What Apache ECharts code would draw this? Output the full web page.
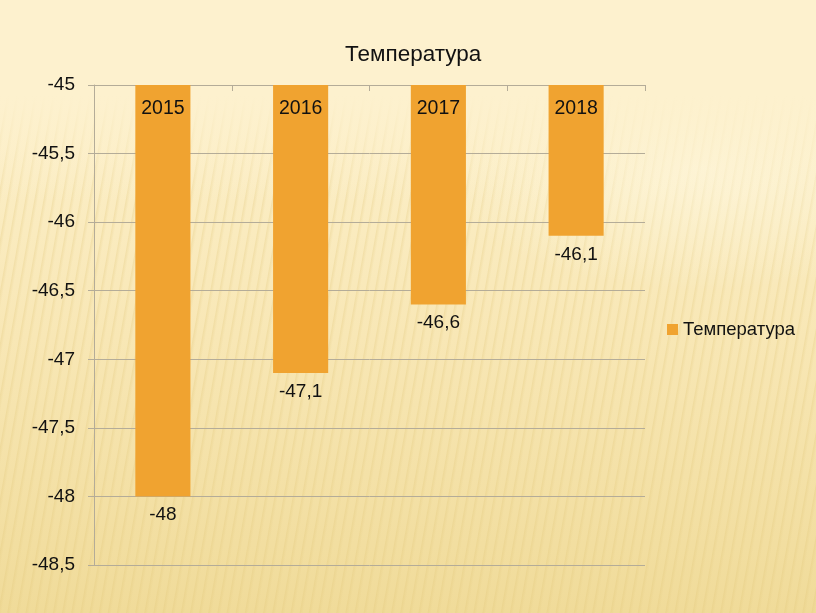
<!DOCTYPE html>
<html>
<head>
<meta charset="utf-8">
<script src="https://cdn.jsdelivr.net/npm/echarts@6/dist/echarts.min.js"></script>
<style>
html,body{margin:0;padding:0;}
body{
  width:816px;height:613px;overflow:hidden;
  background:
    linear-gradient(180deg, rgba(253,241,206,1) 0px, rgba(253,241,206,1) 95px, rgba(253,241,206,0) 200px),
    radial-gradient(ellipse 260px 120px at 700px 170px, rgba(255,250,230,0.55), rgba(255,250,230,0) 100%),
    repeating-linear-gradient(100deg, rgba(255,255,255,0) 0px, rgba(255,255,255,0) 5px, rgba(225,198,120,0.28) 6px, rgba(255,255,255,0) 9px),
    linear-gradient(180deg, #FDF1CE 0%, #FCEFC8 20%, #F8E7B5 55%, #F0DB99 100%);
}
#chart{width:816px;height:613px;}
</style>
</head>
<body>
<div id="chart"></div>
<script>
const categories = ['2015', '2016', '2017', '2018'];
const seriesName = 'Температура';
const values = [-48, -47.1, -46.6, -46.1];
const yTicks = [-45, -45.5, -46, -46.5, -47, -47.5, -48, -48.5];

const fmt = v => String(v).replace('.', ',');
const font = '"Liberation Sans", Arial, sans-serif';

const chart = echarts.init(document.getElementById('chart'), null, {renderer: 'canvas'});
chart.setOption({
  backgroundColor: 'transparent',
  animation: false,
  title: {
    text: 'Температура',
    left: 340,
    top: 38,
    textStyle: {fontFamily: font, fontSize: 22.5, fontWeight: 'normal', color: '#111'}
  },
  legend: {
    data: [seriesName],
    orient: 'vertical',
    left: 662,
    top: 315,
    itemWidth: 11,
    itemHeight: 11,
    itemGap: 6,
    icon: 'rect',
    textStyle: {fontFamily: font, fontSize: 18.5, color: '#111'}
  },
  grid: {left: 94, right: 171, top: 85, bottom: 48, containLabel: false},
  xAxis: {
    type: 'category',
    data: categories,
    position: 'top',
    z: 5,
    axisLine: {show: false},
    axisTick: {show: true, inside: true, length: 6, lineStyle: {color: '#B4AC98'}},
    axisLabel: {inside: true, margin: 14, fontFamily: font, fontSize: 19.5, color: '#111', verticalAlign: 'top'},
    splitLine: {show: false}
  },
  yAxis: {
    type: 'value',
    min: -48.5,
    max: -45,
    interval: 0.5,
    axisLine: {show: true, lineStyle: {color: '#B4AC98', width: 1}},
    axisTick: {show: true, length: 6, lineStyle: {color: '#B4AC98'}},
    axisLabel: {margin: 19, fontFamily: font, fontSize: 19, color: '#111', formatter: v => fmt(v)},
    splitLine: {show: true, lineStyle: {color: '#B4AC98', width: 1}}
  },
  series: [{
    name: seriesName,
    type: 'bar',
    data: values,
    barWidth: '40%',
    clip: true,
    itemStyle: {color: '#F0A330'},
    label: {
      show: true,
      position: 'bottom',
      distance: 9,
      fontFamily: font,
      fontSize: 19,
      color: '#111',
      formatter: p => fmt(p.value)
    }
  }]
});
</script>
</body>
</html>
